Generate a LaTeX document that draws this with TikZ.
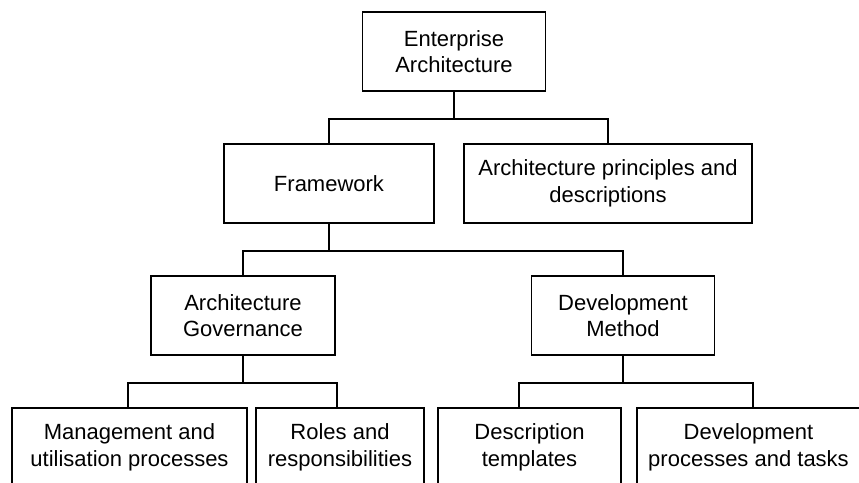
\documentclass[tikz,border=0pt]{standalone}
\usepackage{fontspec}
\setmainfont{Liberation Sans}
\begin{document}
\begin{tikzpicture}[x=1pt,y=-1pt,
  box/.style={draw, line width=1.8pt, rectangle, align=center, inner sep=0pt,
    minimum height=79pt, font=\fontsize{22}{26.5}\selectfont},
  link/.style={line width=1.8pt}]
\path[use as bounding box, clip] (0,0) rectangle (859,482);
\fill[white] (0,0) rectangle (859,482);
% level 0
\node[box, minimum width=183pt] (EA) at (454,51.5) {Enterprise\\Architecture};
% level 1
\node[box, minimum width=210pt] (FW) at (329,183.5) {Framework};
\node[box, minimum width=288pt] (AP) at (608,183.5) {Architecture principles and\\descriptions};
% level 2
\node[box, minimum width=184pt] (AG) at (243,315.5) {Architecture\\Governance};
\node[box, minimum width=183pt] (DM) at (623,315.5) {Development\\Method};
% level 3
\node[box, minimum width=235pt] (MU) at (129.5,447.5) {Management and\\utilisation processes};
\node[box, minimum width=168pt] (RR) at (340,447.5) {Roles and\\responsibilities};
\node[box, minimum width=183pt] (DT) at (529.5,447.5) {Description\\templates};
\node[box, minimum width=223pt] (DP) at (748.5,447.5) {Development\\processes and tasks};
% connectors
\draw[link] (EA.south) -- ++(0,27) coordinate (b1);
\draw[link] (b1) -| (FW.north);
\draw[link] (b1) -| (AP.north);
\draw[link] (FW.south) -- ++(0,27) coordinate (b2);
\draw[link] (b2) -| (AG.north);
\draw[link] (b2) -| (DM.north);
\draw[link] (AG.south) -- ++(0,27) coordinate (b3);
\draw[link] (b3) -| ([xshift=-1.5pt]MU.north);
\draw[link] (b3) -| ([xshift=-3pt]RR.north);
\draw[link] (DM.south) -- ++(0,27) coordinate (b4);
\draw[link] (b4) -| ([xshift=-10.5pt]DT.north);
\draw[link] (b4) -| ([xshift=4.5pt]DP.north);
\end{tikzpicture}
\end{document}
